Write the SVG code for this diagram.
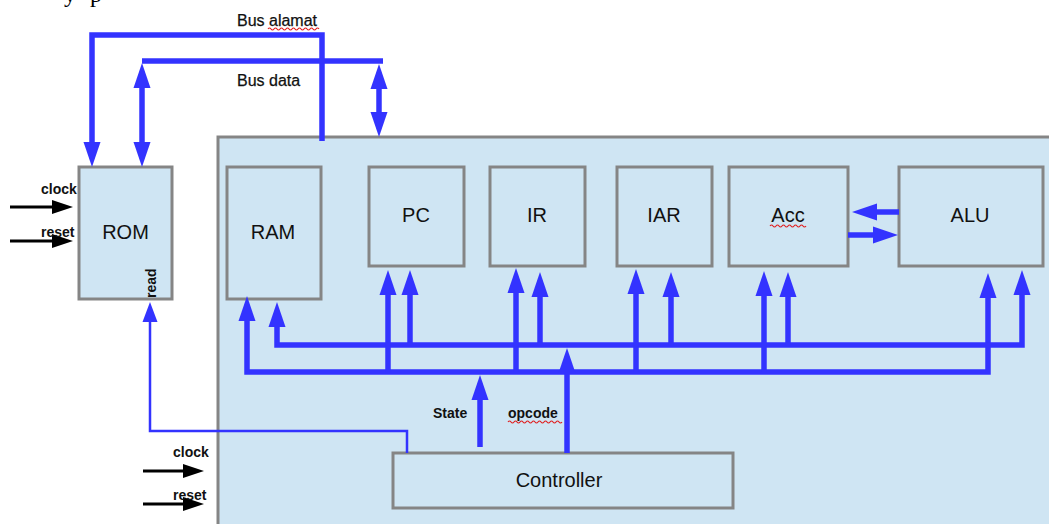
<svg xmlns="http://www.w3.org/2000/svg" width="1049" height="524" viewBox="0 0 1049 524">
  <style>
    .box { fill: #cfe5f3; stroke: #858585; stroke-width: 3; }
    .lbl { font-family: "Liberation Sans", Arial, sans-serif; font-size: 20px; fill: #111; text-anchor: middle; }
    .sig { font-family: "Liberation Sans", Arial, sans-serif; font-size: 14px; font-weight: bold; fill: #111; }
    .bus { font-family: "Liberation Sans", Arial, sans-serif; font-size: 16px; fill: #111; stroke: #111; stroke-width: 0.25; }
    .wire { fill: none; stroke: #3333ff; stroke-width: 5.5; stroke-linejoin: miter; }
    .thin { fill: none; stroke: #3333ff; stroke-width: 2.5; }
    .blk { fill: none; stroke: #000; stroke-width: 3; }
    .sq { fill: none; stroke: #e02020; stroke-width: 1.2; }
  </style>
  <defs>
    <marker id="a" markerUnits="userSpaceOnUse" markerWidth="26" markerHeight="18" refX="1" refY="9" orient="auto-start-reverse" overflow="visible">
      <path d="M0,0.5 L25,9 L0,17.5 Z" fill="#3333ff"/>
    </marker>
    <marker id="s" markerUnits="userSpaceOnUse" markerWidth="21" markerHeight="15" refX="1" refY="7.5" orient="auto" overflow="visible">
      <path d="M0,0 L20,7.5 L0,15 Z" fill="#3333ff"/>
    </marker>
    <marker id="k" markerUnits="userSpaceOnUse" markerWidth="22" markerHeight="14" refX="1" refY="7" orient="auto" overflow="visible">
      <path d="M0,0 L21,7 L0,14 Z" fill="#000"/>
    </marker>
  </defs>

  <rect width="1049" height="524" fill="#fff"/>

  <!-- trailing line of page text above the figure -->
  <text x="64" y="2" font-family="'Liberation Serif', serif" font-size="24" word-spacing="8" fill="#000">y p</text>

  <!-- CPU enclosure -->
  <rect id="cpu" x="218" y="137" width="840" height="400" class="box"/>

  <!-- nodes -->
  <g id="rom">
    <rect x="79" y="167" width="93" height="132" class="box"/>
    <text x="125.5" y="239" class="lbl">ROM</text>
    <text transform="translate(156,298) rotate(-90)" class="sig" font-size="13">read</text>
  </g>
  <g id="ram">
    <rect x="227" y="167" width="94" height="132" class="box"/>
    <text x="273" y="239" class="lbl">RAM</text>
  </g>
  <g id="pc">
    <rect x="369" y="167" width="95" height="99" class="box"/>
    <text x="416" y="222" class="lbl">PC</text>
  </g>
  <g id="ir">
    <rect x="490" y="167" width="95" height="99" class="box"/>
    <text x="537" y="222" class="lbl">IR</text>
  </g>
  <g id="iar">
    <rect x="617" y="167" width="95" height="99" class="box"/>
    <text x="664" y="222" class="lbl">IAR</text>
  </g>
  <g id="acc">
    <rect x="729" y="167" width="119" height="99" class="box"/>
    <text x="788" y="222" class="lbl">Acc</text>
    <path class="sq" d="M770,226 q1.5,-2 3,0 t3,0 t3,0 t3,0 t3,0 t3,0 t3,0 t3,0 t3,0 t3,0 t3,0 t3,0"/>
  </g>
  <g id="alu">
    <rect x="899" y="167" width="144" height="99" class="box"/>
    <text x="970" y="222" class="lbl">ALU</text>
  </g>
  <g id="controller">
    <rect x="393" y="453" width="340" height="55" class="box"/>
    <text x="559" y="487" class="lbl">Controller</text>
  </g>

  <!-- connectors -->
  <g id="connectors">
    <!-- address bus -->
    <path class="wire" d="M322,141 V35 H92 V143" marker-end="url(#a)"/>
    <!-- data bus -->
    <path class="wire" d="M142,61 H383"/>
    <path class="wire" d="M142,87 V143" marker-start="url(#a)" marker-end="url(#a)"/>
    <path class="wire" d="M379,88 V113" marker-start="url(#a)" marker-end="url(#a)"/>

    <!-- internal control lines -->
    <path class="wire" d="M247,320 V372 H988 V297" marker-start="url(#a)" marker-end="url(#a)"/>
    <path class="wire" d="M277,326 V345 H1022 V294" marker-start="url(#a)" marker-end="url(#a)"/>
    <path class="wire" d="M388,372 V294" marker-end="url(#a)"/>
    <path class="wire" d="M410,345 V294" marker-end="url(#a)"/>
    <path class="wire" d="M516,372 V292" marker-end="url(#a)"/>
    <path class="wire" d="M540,345 V296" marker-end="url(#a)"/>
    <path class="wire" d="M636,372 V293" marker-end="url(#a)"/>
    <path class="wire" d="M671,345 V296" marker-end="url(#a)"/>
    <path class="wire" d="M764,372 V295" marker-end="url(#a)"/>
    <path class="wire" d="M788,345 V296" marker-end="url(#a)"/>

    <!-- controller outputs -->
    <path class="wire" d="M480,447 V399" marker-end="url(#a)"/>
    <path class="wire" d="M567,453 V372" marker-end="url(#a)"/>

    <!-- Acc / ALU -->
    <path class="wire" d="M899,212 H876" marker-end="url(#a)"/>
    <path class="wire" d="M848,235 H874" marker-end="url(#a)"/>

    <!-- ROM read strobe -->
    <path class="thin" d="M407,453 V431 H150 V321" marker-end="url(#s)"/>

    <!-- clock / reset inputs -->
    <path class="blk" d="M10,207 H53" marker-end="url(#k)"/>
    <path class="blk" d="M10,241 H53" marker-end="url(#k)"/>
    <path class="blk" d="M143,471 H184" marker-end="url(#k)"/>
    <path class="blk" d="M143,504 H184" marker-end="url(#k)"/>
  </g>

  <!-- labels -->
  <text x="237" y="26" class="bus">Bus alamat</text>
  <path class="sq" d="M268,29 q1.5,-2 3,0 t3,0 t3,0 t3,0 t3,0 t3,0 t3,0 t3,0 t3,0 t3,0 t3,0 t3,0 t3,0 t3,0 t3,0 t3,0 t3,0"/>
  <text x="237" y="86" class="bus">Bus data</text>

  <text x="41" y="194" class="sig">clock</text>
  <text x="41" y="237" class="sig">reset</text>
  <text x="173" y="457" class="sig">clock</text>
  <text x="173" y="500" class="sig">reset</text>

  <text x="433" y="418" class="sig">State</text>
  <text x="508" y="418" class="sig" font-size="14.5">opcode</text>
  <path class="sq" d="M508,422 q1.5,-2 3,0 t3,0 t3,0 t3,0 t3,0 t3,0 t3,0 t3,0 t3,0 t3,0 t3,0 t3,0 t3,0 t3,0 t3,0 t3,0 t3,0 t3,0"/>
</svg>
